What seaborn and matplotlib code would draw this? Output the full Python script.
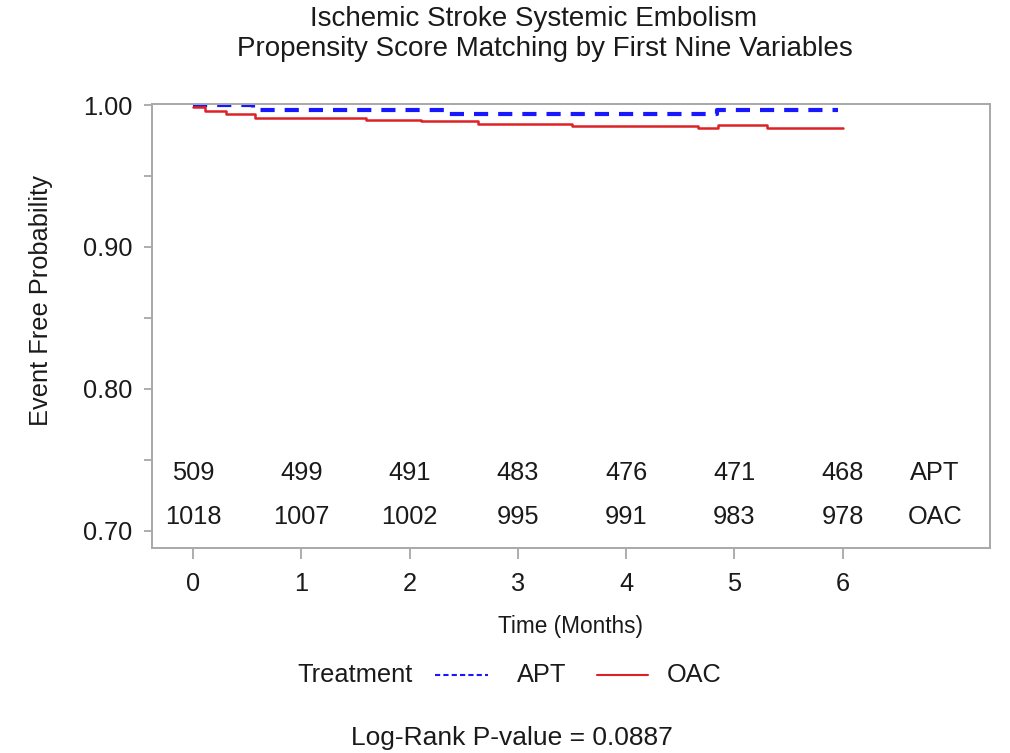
import pandas as pd
import matplotlib.pyplot as plt
from matplotlib.lines import Line2D
import seaborn as sns

# survival steps
apt_time = [0, 0.55, 2.34, 4.84, 5.96]
apt_surv = [1.0, 0.9968, 0.9940, 0.9963, 0.9963]
oac_time = [0, 0.11, 0.30, 0.57, 1.60, 2.10, 2.63, 3.35, 3.50, 4.66, 4.85, 5.30, 6.00]
oac_surv = [0.9987, 0.9956, 0.9940, 0.9910, 0.9898, 0.9886, 0.9870, 0.9863,
            0.9849, 0.9840, 0.9858, 0.9840, 0.9840]

# numbers at risk
risk_months = [0, 1, 2, 3, 4, 5, 6]
risk_apt = [509, 499, 491, 483, 476, 471, 468]
risk_oac = [1018, 1007, 1002, 995, 991, 983, 978]

groups = ['APT', 'OAC']
colors = {'APT': '#1818ff', 'OAC': '#dc2226'}

df = pd.concat([
    pd.DataFrame({'time': apt_time, 'surv': apt_surv, 'group': 'APT'}),
    pd.DataFrame({'time': oac_time, 'surv': oac_surv, 'group': 'OAC'}),
], ignore_index=True)

sns.set_theme(style='white')
plt.rcParams['font.family'] = ['Liberation Sans', 'DejaVu Sans']
txt = '#1a1a1a'
fs = 18.3

fig = plt.figure(figsize=(10.1, 7.53), dpi=100)
ax = fig.add_axes([0.1505, 0.2722, 0.8297, 0.5896])

for g in groups:
    sub = df[df.group == g]
    sns.lineplot(data=sub, x='time', y='surv', ax=ax, color=colors[g],
                 drawstyle='steps-post', estimator=None, sort=False,
                 linewidth=3.0 if g == 'APT' else 1.8,
                 dashes=False, legend=False)
ax.lines[0].set_dashes([3.4, 2.4])

ax.set_xlim(-0.38, 7.36)
ax.set_ylim(0.6878, 1.0007)
ax.set_xticks(risk_months)
ax.set_yticks([0.70, 0.80, 0.90, 1.00])
ax.set_yticks([0.75, 0.85, 0.95], minor=True)
ax.set_yticklabels(['0.70', '0.80', '0.90', '1.00'])
ax.tick_params(axis='both', which='both', direction='out', color='#a0a0a0',
               labelsize=fs, labelcolor=txt, width=1.2)
ax.tick_params(axis='x', length=8, pad=9)
ax.tick_params(axis='y', which='both', length=6, pad=8, left=True)
ax.tick_params(axis='x', bottom=True)
for s in ax.spines.values():
    s.set_color('#a8a8a8')
    s.set_linewidth(1.4)
ax.set_xlabel('')
ax.set_ylabel('')

# at-risk table inside the plot
for m, a, o in zip(risk_months, risk_apt, risk_oac):
    ax.text(m, 0.7406, str(a), ha='center', va='center', fontsize=fs, color=txt)
    ax.text(m, 0.7096, str(o), ha='center', va='center', fontsize=fs, color=txt)
ax.text(6.85, 0.7406, 'APT', ha='center', va='center', fontsize=fs, color=txt)
ax.text(6.85, 0.7096, 'OAC', ha='center', va='center', fontsize=fs, color=txt)

W, H = 1010, 753
fig.text(534 / W, 1 - 19 / H, 'Ischemic Stroke Systemic Embolism',
         ha='center', va='center', fontsize=20, color=txt)
fig.text(545 / W, 1 - 49 / H, 'Propensity Score Matching by First Nine Variables',
         ha='center', va='center', fontsize=20, color=txt)
fig.text(41 / W, 1 - 301 / H, 'Event Free Probability', rotation=90,
         ha='center', va='center', fontsize=fs, color=txt)
fig.text(571 / W, 1 - 627 / H, 'Time (Months)', ha='center', va='center',
         fontsize=16.3, color=txt)

# legend row
ly = 1 - 675 / H
fig.text(297 / W, ly, 'Treatment', ha='left', va='center', fontsize=fs, color=txt)
fig.add_artist(Line2D([435 / W, 488 / W], [ly, ly], color=colors['APT'],
                      linewidth=1.5, dashes=[2.5, 1.5]))
fig.text(517 / W, ly, 'APT', ha='left', va='center', fontsize=fs, color=txt)
fig.add_artist(Line2D([597 / W, 648 / W], [ly, ly], color=colors['OAC'],
                      linewidth=1.5))
fig.text(667 / W, ly, 'OAC', ha='left', va='center', fontsize=fs, color=txt)

fig.text(512 / W, 1 - 738 / H, 'Log-Rank P-value = 0.0887', ha='center',
         va='center', fontsize=19, color=txt)

fig.savefig('out.png', dpi=100)
